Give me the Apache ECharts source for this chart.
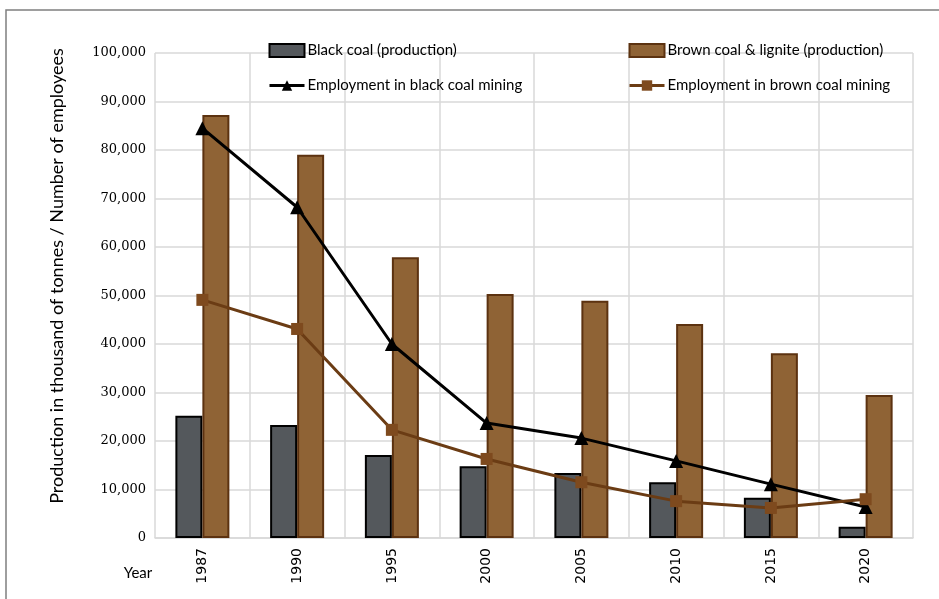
<!DOCTYPE html>
<html>
<head>
<meta charset="utf-8">
<script src="https://cdn.jsdelivr.net/npm/echarts@6/dist/echarts.min.js"></script>
<style>
  html, body { margin: 0; padding: 0; background: #ffffff; }
  #chart { width: 939px; height: 599px; }
</style>
</head>
<body>
<div id="chart"></div>
<script>
// Coal production (thousand tonnes) and employment in coal mining
const years = ['1987', '1990', '1995', '2000', '2005', '2010', '2015', '2020'];
const blackCoalProduction = [25200, 23300, 17100, 14800, 13400, 11500, 8300, 2300];
const brownCoalProduction = [87200, 79000, 57900, 50300, 48900, 44100, 38100, 29500];
const blackCoalEmployment = [84500, 68200, 40000, 23700, 20600, 15900, 11100, 6400];
const brownCoalEmployment = [49100, 43100, 22300, 16300, 11500, 7600, 6200, 8000];
const yTicks = { min: 0, max: 100000, interval: 10000 };

const textFont = 'Lato';
const gridColor = '#d9d9d9';

const legendBase = {
  orient: 'vertical',
  top: 43,
  padding: 0,
  itemGap: 20,
  itemWidth: 35,
  itemHeight: 13,
  lineStyle: { width: 3 },
  textStyle: { fontFamily: textFont, fontSize: 15, color: '#000', padding: [0, 0, 0, -2] }
};

const chart = echarts.init(document.getElementById('chart'), null, { renderer: 'canvas' });

chart.setOption({
  backgroundColor: '#ffffff',
  animation: false,
  grid: { left: 155, right: 26, top: 53, bottom: 61, containLabel: false },
  legend: [
    Object.assign({}, legendBase, {
      left: 268,
      data: [
        { name: 'Black coal (production)', icon: 'rect' },
        'Employment in black coal mining'
      ]
    }),
    Object.assign({}, legendBase, {
      left: 628,
      data: [
        { name: 'Brown coal & lignite (production)', icon: 'rect' },
        'Employment in brown coal mining'
      ]
    })
  ],
  xAxis: {
    type: 'category',
    data: years,
    boundaryGap: true,
    axisLine: { show: true, lineStyle: { color: gridColor, width: 1.5 } },
    axisTick: { show: false },
    splitLine: { show: true, lineStyle: { color: gridColor, width: 1.5 } },
    axisLabel: {
      rotate: 90,
      margin: 10,
      fontFamily: 'DejaVu Sans',
      fontSize: 14,
      color: '#000'
    }
  },
  yAxis: {
    type: 'value',
    min: yTicks.min,
    max: yTicks.max,
    interval: yTicks.interval,
    axisLine: { show: false },
    axisTick: { show: false },
    splitLine: { show: true, lineStyle: { color: gridColor, width: 1.5 } },
    axisLabel: {
      margin: 9,
      fontFamily: 'DejaVu Serif',
      fontSize: 13,
      color: '#000',
      formatter: v => v.toLocaleString('en-US')
    }
  },
  series: [
    {
      name: 'Black coal (production)',
      type: 'bar',
      data: blackCoalProduction,
      barWidth: 27,
      barGap: '0%',
      itemStyle: { color: '#54585c', borderColor: '#000000', borderWidth: 2 }
    },
    {
      name: 'Brown coal & lignite (production)',
      type: 'bar',
      data: brownCoalProduction,
      barWidth: 27,
      barGap: '0%',
      itemStyle: { color: '#8f6335', borderColor: '#5c3210', borderWidth: 2 }
    },
    {
      name: 'Employment in black coal mining',
      type: 'line',
      data: blackCoalEmployment,
      symbol: 'triangle',
      symbolSize: 14,
      lineStyle: { color: '#000000', width: 3 },
      itemStyle: { color: '#000000' },
      z: 5
    },
    {
      name: 'Employment in brown coal mining',
      type: 'line',
      data: brownCoalEmployment,
      symbol: 'rect',
      symbolSize: 12,
      lineStyle: { color: '#6b3c14', width: 3 },
      itemStyle: { color: '#7e4a1e' },
      z: 6
    }
  ],
  graphic: [
    {
      type: 'polyline',
      shape: { points: [[6, 599], [6, 10], [939, 10]] },
      style: { stroke: '#7f7f7f', lineWidth: 1.5, fill: null },
      silent: true
    },
    {
      type: 'text',
      x: 57,
      y: 276,
      rotation: Math.PI / 2,
      style: {
        text: 'Production in thousand of tonnes / Number of employees',
        fontFamily: textFont,
        fontSize: 18,
        fill: '#000',
        align: 'center',
        verticalAlign: 'middle'
      }
    },
    {
      type: 'text',
      x: 138,
      y: 573,
      style: {
        text: 'Year',
        fontFamily: textFont,
        fontSize: 15,
        fill: '#000',
        align: 'center',
        verticalAlign: 'middle'
      }
    }
  ]
});
</script>
</body>
</html>
